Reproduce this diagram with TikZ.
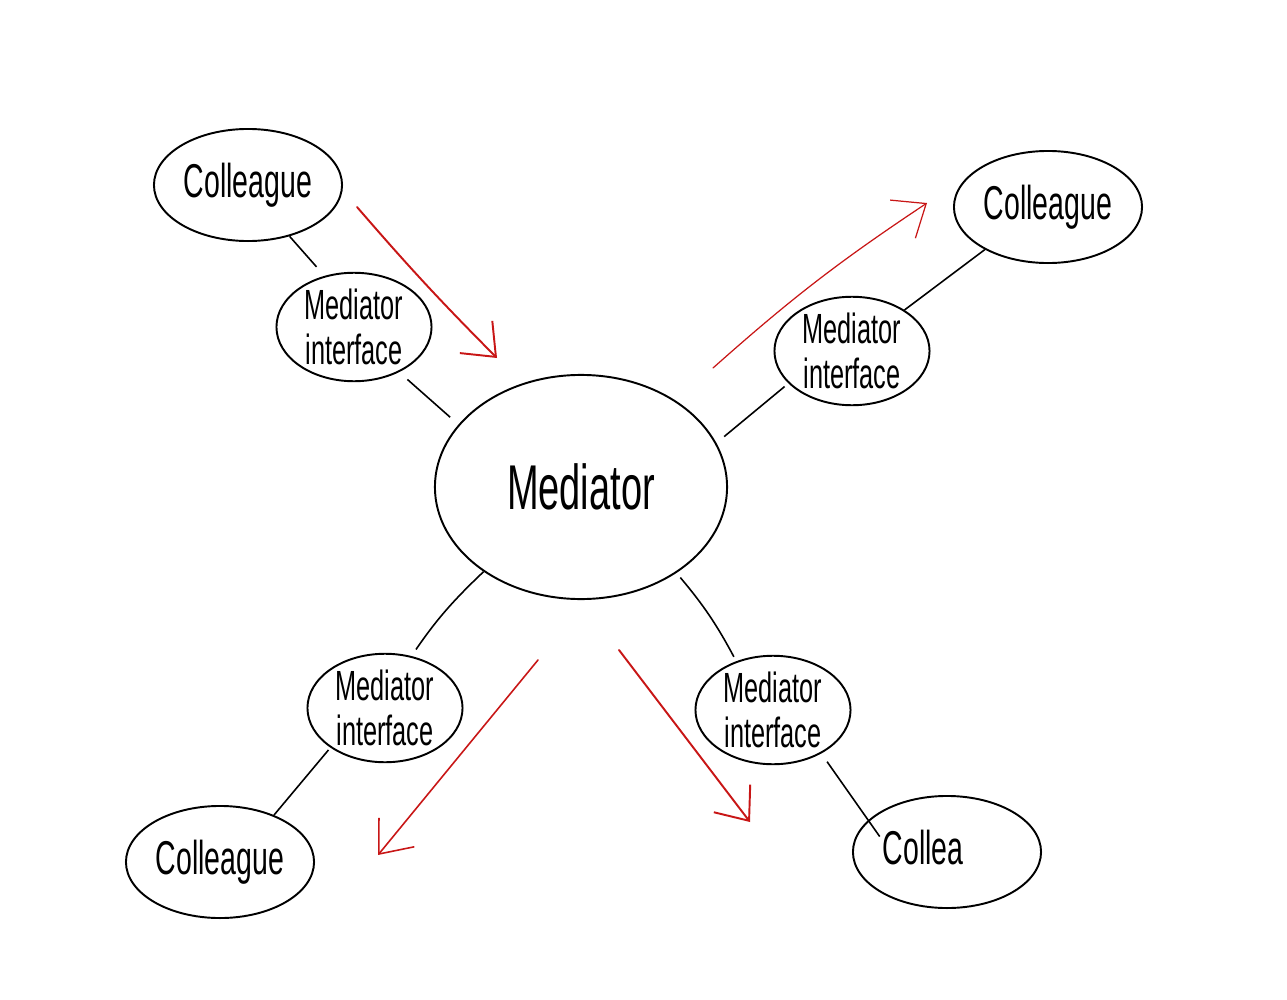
\documentclass[tikz,border=0pt]{standalone}
\usepackage{fontspec}
\setmainfont{Liberation Sans}[FakeStretch=0.6]
\usepackage{xcolor}
\usetikzlibrary{arrows.meta, shapes.geometric}
\definecolor{penred}{RGB}{200,22,22}

\begin{document}
\begin{tikzpicture}[
  x=0.01cm, y=-0.01cm,
  >={Straight Barb[length=8pt, width=13pt]},
  colleague/.style={draw, ellipse, line width=0.55pt, inner sep=0pt,
    minimum width=1.88cm, minimum height=1.12cm, font=\fontsize{13.5}{16}\selectfont},
  iface/.style={draw, ellipse, line width=0.55pt, inner sep=0pt, align=center,
    minimum width=1.55cm, minimum height=1.03cm, font=\fontsize{12}{13}\selectfont},
  hub/.style={draw, ellipse, line width=0.55pt, inner sep=0pt,
    minimum width=2.92cm, minimum height=2.24cm, font=\fontsize{18}{20}\selectfont},
  link/.style={line width=0.45pt},
  flow/.style={->, draw=penred, line width=0.55pt, line cap=round}]
\useasboundingbox (0,0) rectangle (1287,1000);
% nodes
\node[hub] (med) at (581,487) {Mediator};
\node[colleague] (ctl) at (248,185) {Colleague};
\node[colleague] (ctr) at (1048,207) {Colleague};
\node[colleague] (cbl) at (220,862) {Colleague};
\node[colleague] (cbr) at (947,852) {Collea\phantom{gue}};
\node[iface] (mtl) at (354,327) {Mediator\\interface};
\node[iface] (mtr) at (852,351) {Mediator\\interface};
\node[iface] (mbl) at (385,708) {Mediator\\interface};
\node[iface] (mbr) at (773,710) {Mediator\\interface};
% links
\draw[link, shorten >=1.2mm] (ctl.-51) -- (mtl.120);
\draw[link, shorten <=1.1mm, shorten >=1.1mm] (mtl.-45) -- (med.153);
\draw[link] (mtr.38) -- (ctr.214);
\draw[link, shorten <=0.5mm, shorten >=1mm] (mtr.207) -- (med.18);
\draw[link, shorten >=0.8mm] (med.221) to[bend right=6] (mbl.63);
\draw[link, shorten <=0.3mm] (mbl.216) -- (cbl.41);
\draw[link, shorten <=0.6mm, shorten >=0.5mm] (med.-42) to[bend left=6] (mbr.127);
\draw[link, shorten <=1mm, shorten >=-2mm] (mbr.-42) -- (cbr.158);
% message flow
\coordinate (a1s) at (357,207);
\coordinate (a1e) at (497,358);
\coordinate (a2s) at (713,368);
\coordinate (a2e) at (927,203);
\coordinate (a3s) at (538,660);
\coordinate (a3e) at (378,855);
\coordinate (a4s) at (619,650);
\coordinate (a4e) at (750,822);
\draw[flow] (a1s) to[bend right=2] (a1e);
\draw[flow, line width=0.35pt] (a2s) to[bend left=4] (a2e);
\draw[flow, line width=0.45pt] (a3s) -- (a3e);
\draw[flow] (a4s) -- (a4e);
\end{tikzpicture}
\end{document}
